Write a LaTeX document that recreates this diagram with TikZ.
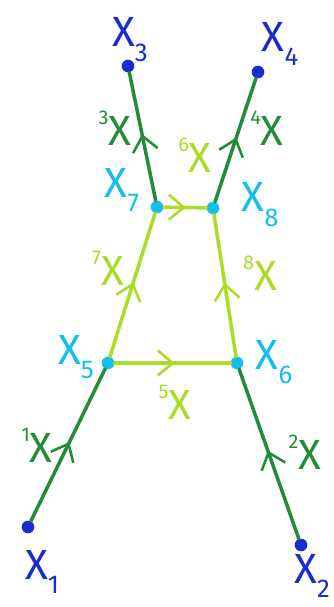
\documentclass[tikz,border=0pt]{standalone}
\usepackage{fontspec}
\setmainfont{Fira Sans}
\usetikzlibrary{arrows.meta,decorations.markings}
\definecolor{darkgr}{RGB}{35,140,55}
\definecolor{lightgr}{RGB}{170,220,40}
\definecolor{skyc}{RGB}{20,190,240}
\definecolor{deepb}{RGB}{25,45,205}
\newcommand{\xsub}[1]{X\raisebox{-0.35em}{\fontsize{22}{22}\selectfont #1}}
\newcommand{\xpre}[1]{\raisebox{0.5em}{\fontsize{17}{17}\selectfont #1}X}
\tikzset{
  pt/.style={circle,fill=#1,inner sep=0pt,minimum size=0.38cm},
  ray/.style={line width=3pt,line cap=round,#1,postaction={decorate},
    decoration={markings,mark=at position 0.52 with {\arrow{Straight Barb[length=4.5mm,width=7.5mm,line width=2.2pt]}}}},
  lab/.style={font=\fontsize{36}{36}\selectfont,inner sep=0pt}
}
\begin{document}
\begin{tikzpicture}[x=0.03cm,y=-0.03cm]
\useasboundingbox (0,0) rectangle (334,607);
% outer points
\node[pt=deepb] (x1) at (28,527) {};
\node[pt=deepb] (x2) at (301,545) {};
\node[pt=deepb] (x3) at (128,66) {};
\node[pt=deepb] (x4) at (258,72) {};
% inner points
\node[pt=skyc] (x5) at (108,363) {};
\node[pt=skyc] (x6) at (237,363) {};
\node[pt=skyc] (x7) at (157,207) {};
\node[pt=skyc] (x8) at (213,208) {};
% point names
\node[lab,deepb] (n1) at (42,572) {\xsub{1}};
\node[lab,deepb] (n2) at (312,576) {\xsub{2}};
\node[lab,deepb] (n3) at (130,40) {\xsub{3}};
\node[lab,deepb] (n4) at (280,44) {\xsub{4}};
\node[lab,skyc] (n5) at (76,357) {\xsub{5}};
\node[lab,skyc] (n6) at (274,362) {\xsub{6}};
\node[lab,skyc] (n7) at (122,190) {\xsub{7}};
\node[lab,skyc] (n8) at (260,205) {\xsub{8}};
% edges
\draw[ray=darkgr] (x1) -- (x5);
\draw[ray=darkgr] (x2) -- (x6);
\draw[ray=darkgr] (x7) -- (x3);
\draw[ray=darkgr] (x8) -- (x4);
\draw[ray=lightgr] (x5) -- (x6);
\draw[ray=lightgr] (x7) -- (x8);
\draw[ray=lightgr] (x5) -- (x7);
\draw[ray=lightgr] (x6) -- (x8);
% edge labels
\node[lab,darkgr] (e1) at (37,445) {\xpre{1}};
\node[lab,darkgr] (e2) at (305,452) {\xpre{2}};
\node[lab,darkgr] (e3) at (115,128) {\xpre{3}};
\node[lab,darkgr] (e4) at (267,128) {\xpre{4}};
\node[lab,lightgr] (e5) at (175,402) {\xpre{5}};
\node[lab,lightgr] (e6) at (195,155) {\xpre{6}};
\node[lab,lightgr] (e7) at (108,268) {\xpre{7}};
\node[lab,lightgr] (e8) at (260,273) {\xpre{8}};
\end{tikzpicture}
\end{document}
